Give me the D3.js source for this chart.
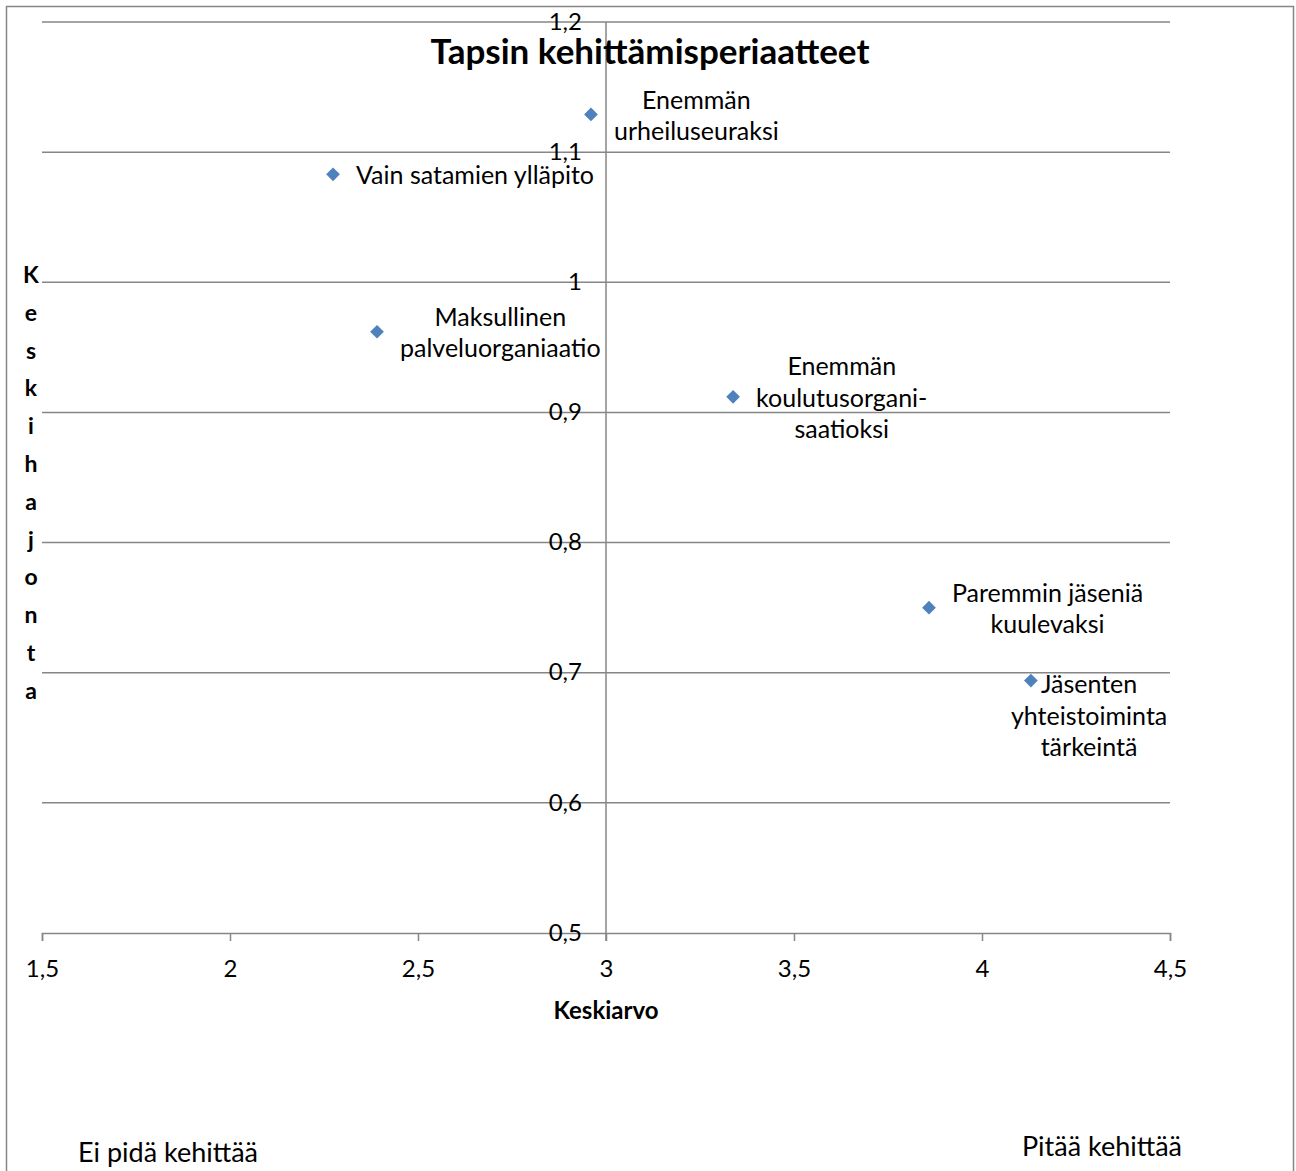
<!DOCTYPE html>
<html>
<head>
<meta charset="utf-8">
<script src="https://cdn.jsdelivr.net/npm/d3@7"></script>
<style>
  html, body { margin: 0; padding: 0; background: #fff; }
  svg { display: block; }
  text { font-family: Lato, "Open Sans", sans-serif; fill: #000; }
</style>
</head>
<body>
<svg id="chart" width="1296" height="1171"></svg>
<script>
// ---- data ----
const categories = [
  ["Enemmän", "urheiluseuraksi"],
  ["Vain satamien ylläpito"],
  ["Maksullinen", "palveluorganiaatio"],
  ["Enemmän", "koulutusorgani-", "saatioksi"],
  ["Paremmin jäseniä", "kuulevaksi"],
  ["Jäsenten", "yhteistoiminta", "tärkeintä"]
];
const keskiarvo   = [2.96, 2.274, 2.391, 3.338, 3.859, 4.13];
const keskihajonta = [1.129, 1.083, 0.962, 0.912, 0.750, 0.694];
const xTicks = [1.5, 2, 2.5, 3, 3.5, 4, 4.5];
const yTicks = [0.5, 0.6, 0.7, 0.8, 0.9, 1.0, 1.1, 1.2];
const titleText = "Tapsin kehittämisperiaatteet";
const xTitle = "Keskiarvo";
const yTitle = "Keskihajonta";
const cornerLeft = "Ei pidä kehittää";
const cornerRight = "Pitää kehittää";

// label nudges (manually moved label in the original)
const labelNudge = {5: {dx: -43, dy: 34}};

// ---- layout ----
const svg = d3.select("#chart");
const pLeft = 42, pRight = 1170, pTop = 22, pBottom = 933;
const x = d3.scaleLinear().domain([1.5, 4.5]).range([pLeft, pRight]);
const y = d3.scaleLinear().domain([0.5, 1.2]).range([pBottom, pTop]);
const loc = d3.formatLocale({decimal: ",", thousands: " ", grouping: [3], currency: ["", "€"]});
const fmt = loc.format("~g");
const gridColor = "#868686";
const FONT = "Lato, 'Open Sans', sans-serif";

// outer frame
svg.append("rect")
  .attr("x", 6.5).attr("y", 6.5).attr("width", 1287).attr("height", 1180)
  .attr("fill", "none").attr("stroke", gridColor).attr("stroke-width", 1.5);

// horizontal gridlines
svg.append("g").selectAll("line").data(yTicks.filter(d => d > 0.5)).join("line")
  .attr("x1", pLeft).attr("x2", pRight)
  .attr("y1", d => y(d)).attr("y2", d => y(d))
  .attr("stroke", gridColor).attr("stroke-width", 1.5);

// x axis at y = 0.5
const xAxis = d3.axisBottom(x).tickValues(xTicks).tickFormat(fmt).tickSize(8);
const gx = svg.append("g").attr("transform", `translate(0,${pBottom})`).call(xAxis);
gx.select(".domain").attr("stroke", gridColor).attr("stroke-width", 1.5);
gx.selectAll(".tick line").attr("stroke", gridColor).attr("stroke-width", 1.5);
gx.selectAll(".tick text").attr("font-size", 24).attr("font-family", FONT).attr("fill", "#000")
  .attr("y", 36).attr("dy", "0.35em");

// y axis at x = 3
const yAxis = d3.axisLeft(y).tickValues(yTicks).tickFormat(fmt).tickSize(0).tickPadding(24);
const gy = svg.append("g").attr("transform", `translate(${x(3)},0)`).call(yAxis);
gy.select(".domain").attr("stroke", gridColor).attr("stroke-width", 1.5)
  .attr("d", `M0,${pTop}V${pBottom + 8}`);
gy.selectAll(".tick text").attr("font-size", 24).attr("font-family", FONT).attr("fill", "#000")
  .attr("dy", "0.3em");

// markers
const pts = categories.map((c, i) => ({lines: c, x: keskiarvo[i], y: keskihajonta[i], i}));
svg.append("g").selectAll("path").data(pts).join("path")
  .attr("d", d3.symbol(d3.symbolDiamond2, 120))
  .attr("transform", d => `translate(${x(d.x)},${y(d.y)})`)
  .attr("fill", "#4F81BD");

// data labels
const lineH = 31.5;
const lab = svg.append("g");
pts.forEach(d => {
  const g = lab.append("g");
  const texts = d.lines.map((t, k) => g.append("text").text(t)
    .attr("font-size", 25).attr("text-anchor", "middle")
    .attr("dominant-baseline", "central"));
  const w = d3.max(texts, t => t.node().getComputedTextLength());
  const nudge = labelNudge[d.i] || {dx: 0, dy: 0};
  const cx = x(d.x) + 23 + w / 2 + nudge.dx;
  const n = d.lines.length;
  texts.forEach((t, k) => t.attr("x", cx)
    .attr("y", y(d.y) + nudge.dy + (k - (n - 1) / 2) * lineH));
});

// title
svg.append("text").text(titleText)
  .attr("x", 650).attr("y", 50).attr("text-anchor", "middle").attr("dominant-baseline", "central")
  .attr("font-size", 35).attr("font-weight", "bold");

// x title
svg.append("text").text(xTitle)
  .attr("x", x(3)).attr("y", 1009).attr("text-anchor", "middle").attr("dominant-baseline", "central")
  .attr("font-size", 24).attr("font-weight", "bold");

// y title stacked
svg.append("g").selectAll("text").data(yTitle.split("")).join("text")
  .text(d => d)
  .attr("x", 31).attr("y", (d, i) => 274 + i * 37.8)
  .attr("text-anchor", "middle").attr("dominant-baseline", "central")
  .attr("font-size", 23).attr("font-weight", "bold");

// corner notes
svg.append("text").text(cornerLeft)
  .attr("x", 78).attr("y", 1151).attr("dominant-baseline", "central").attr("font-size", 27);
svg.append("text").text(cornerRight)
  .attr("x", 1182).attr("y", 1145).attr("text-anchor", "end").attr("dominant-baseline", "central").attr("font-size", 27);
</script>
</body>
</html>
